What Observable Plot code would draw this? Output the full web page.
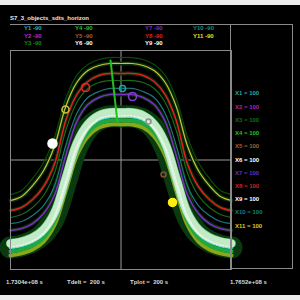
<!DOCTYPE html>
<html><head><meta charset="utf-8">
<script src="https://cdn.jsdelivr.net/npm/d3@7"></script>
<script src="https://cdn.jsdelivr.net/npm/@observablehq/plot@0.6"></script>
<style>
html,body{margin:0;padding:0;background:#000;overflow:hidden}
#wrap{position:relative;width:300px;height:300px;background:#000;font-family:"Liberation Sans",Arial,sans-serif;font-weight:bold}
#wrap svg{position:absolute;left:0;top:0}
.t{position:absolute;font-size:6px;white-space:pre;line-height:1;transform:translateY(-50%)}
.ln{position:absolute;background:#8a8a8a}
.strip{position:absolute;left:0;width:300px;background:#ececec}
</style></head><body><div id="wrap"></div>
<script>
// time samples, ks after 1.7304e+08 s
const times = [0,174,348,522,696,870,1044,1218,1392,1566,1740,1914,2088,2262,2436,2610,2784,2958,3132,3306,3480];

// curve values (degrees)
const glowOuter = [-28.4,-25.1,-15.2,-2.1,19.3,50.5,69.5,78.5,82.6,84.2,84.2,84.2,82.6,78.5,69.5,50.5,19.3,-2.1,-15.2,-25.1,-28.4];
const yellowCurve = [-33.3,-30.0,-21.0,-8.6,11.9,44.0,63.7,73.6,77.7,79.3,79.3,79.3,77.7,73.6,63.7,44.0,11.9,-8.6,-21.0,-30.0,-33.3];
const redCurve = [-41.5,-39.0,-32.5,-21.8,-2.9,32.5,53.8,64.5,69.5,71.1,71.1,71.1,69.5,64.5,53.8,32.5,-2.9,-21.8,-32.5,-39.0,-41.5];
const darkGreenCurve = [-47.3,-44.8,-39.0,-29.2,-10.3,24.2,47.3,58.8,63.7,65.3,65.3,65.3,63.7,58.8,47.3,24.2,-10.3,-29.2,-39.0,-44.8,-47.3];
const tealCurve = [-52.2,-50.5,-45.6,-37.4,-21.0,11.9,38.2,51.4,56.3,58.8,58.8,58.8,56.3,51.4,38.2,11.9,-21.0,-37.4,-45.6,-50.5,-52.2];
const purpleCurve = [-57.9,-56.3,-52.2,-44.0,-28.4,3.7,31.6,45.6,51.4,53.8,53.8,53.8,51.4,45.6,31.6,3.7,-28.4,-44.0,-52.2,-56.3,-57.9];
const whiteBand = [-68.6,-67.0,-63.7,-57.1,-43.2,-15.2,13.6,29.2,36.6,39.0,39.0,39.0,36.6,29.2,13.6,-15.2,-43.2,-57.1,-63.7,-67.0,-68.6];
const cyanBand = [-71.9,-70.3,-67.0,-60.4,-46.4,-18.5,10.3,25.9,33.3,35.8,35.8,35.8,33.3,25.9,10.3,-18.5,-46.4,-60.4,-67.0,-70.3,-71.9];
const greenBand = [-75.2,-73.6,-70.3,-63.7,-49.7,-21.8,7.0,22.6,30.0,32.5,32.5,32.5,30.0,22.6,7.0,-21.8,-49.7,-63.7,-70.3,-73.6,-75.2];
const yellowGreenBand = [-78.5,-76.8,-73.6,-67.0,-53.0,-25.1,3.7,19.3,26.7,29.2,29.2,29.2,26.7,19.3,3.7,-25.1,-53.0,-67.0,-73.6,-76.8,-78.5];

// markers
const markT = [661,866,1182,1764,1921,2173,2410,2551];
const markV = [13.6,41.5,59.6,58.8,52.2,31.6,-11.9,-34.9];
const markColor = ["#ffffff","#c8c040","#e02828","#20a0a0","#8040d0","#909090","#805030","#ffee10"];
const markFilled = [true,false,false,false,false,false,false,true];
const markR = [4.5,3.5,4,3,4,2.5,2.5,4];

// green marker line
const pointerT = [1575,1685];
const pointerV = [81.8,30.8];

// legends
const yLegend = ["Y1 -90","Y2 -90","Y3 -90","Y4 -90","Y5 -90","Y6 -90","Y7 -90","Y8 -90","Y9 -90","Y10 -90","Y11 -90"];
const yLegendColor = ["#20b0b0","#c020c0","#108a10","#20c020","#a06020","#ffffff","#7030c0","#e02020","#ffffff","#108a8a","#e0e020"];
const xLegend = ["X1 = 100","X2 = 100","X3 = 100","X4 = 100","X5 = 100","X6 = 100","X7 = 100","X8 = 100","X9 = 100","X10 = 100","X11 = 100"];
const xLegendColor = ["#20a8a8","#b020b0","#107010","#20c020","#a06030","#ffffff","#6030c0","#d02020","#ffffff","#108080","#d0d020"];
const titleText = "S7_3_objects_sdts_horizon";
const bottomTexts = ["1.7304e+08 s","Tdelt =  200 s","Tplot =  200 s","1.7652e+08 s"];

const rows = vals => times.map((t,i)=>({t, v: vals[i]}));
const C = "catmull-rom";
const markers = markT.map((t,i)=>({t, v: markV[i], c: markColor[i], f: markFilled[i], r: markR[i]}));
const pointer = pointerT.map((t,i)=>({t, v: pointerV[i]}));

const chart = Plot.plot({
  width: 300, height: 300,
  marginTop: 50, marginLeft: 10, marginRight: 69, marginBottom: 31,
  x: {domain: [0, 3480], axis: null},
  y: {domain: [-90, 90], axis: null},
  r: {type: "identity"},
  style: {background: "transparent", overflow: "visible"},
  marks: [
    Plot.ruleX([1740], {stroke: "#9a9a9a", strokeWidth: 1}),
    Plot.ruleY([0], {stroke: "#9a9a9a", strokeWidth: 1}),
    Plot.line(rows(cyanBand), {x:"t", y:"v", stroke:"#0a3a10", strokeWidth: 22, curve: C}),
    Plot.line(rows(glowOuter), {x:"t", y:"v", stroke:"#0b4a0b", strokeWidth: 1.2, curve: C}),
    Plot.line(rows(yellowCurve), {x:"t", y:"v", stroke:"#082e08", strokeWidth: 4, curve: C}),
    Plot.line(rows(yellowCurve), {x:"t", y:"v", stroke:"#c8c43a", strokeWidth: 1.2, curve: C}),
    Plot.line(rows(redCurve), {x:"t", y:"v", stroke:"#082808", strokeWidth: 4, curve: C}),
    Plot.line(rows(redCurve), {x:"t", y:"v", stroke:"#e02020", strokeWidth: 1.5, curve: C}),
    Plot.line(rows(darkGreenCurve), {x:"t", y:"v", stroke:"#1a6a1a", strokeWidth: 1.2, curve: C}),
    Plot.line(rows(tealCurve), {x:"t", y:"v", stroke:"#1a7a7a", strokeWidth: 1.2, curve: C}),
    Plot.line(rows(purpleCurve), {x:"t", y:"v", stroke:"#082808", strokeWidth: 4, curve: C}),
    Plot.line(rows(purpleCurve), {x:"t", y:"v", stroke:"#7a30c8", strokeWidth: 1.5, curve: C}),
    Plot.line(rows(yellowGreenBand), {x:"t", y:"v", stroke:"#8aa818", strokeWidth: 4, curve: C}),
    Plot.line(rows(greenBand), {x:"t", y:"v", stroke:"#20a840", strokeWidth: 4, curve: C}),
    Plot.line(rows(cyanBand), {x:"t", y:"v", stroke:"#30d0c0", strokeWidth: 3.5, curve: C}),
    Plot.line(rows(whiteBand), {x:"t", y:"v", stroke:"#5fb872", strokeWidth: 9, curve: C}),
    Plot.line(rows(whiteBand), {x:"t", y:"v", stroke:"#e4fbe4", strokeWidth: 8, strokeDasharray: "1,1.8", strokeOpacity: 0.75, curve: C}),
    Plot.line(rows(cyanBand), {x:"t", y:"v", stroke:"#ffffff", strokeWidth: 2.5, strokeDasharray: "0.8,2.4", strokeOpacity: 0.55, curve: C}),
    Plot.line(pointer, {x:"t", y:"v", stroke:"#22c022", strokeWidth: 2}),
    Plot.dot(markers.filter(d=>d.f), {x:"t", y:"v", r:"r", fill:"c", stroke:"c"}),
    Plot.dot(markers.filter(d=>!d.f), {x:"t", y:"v", r:"r", fill:"none", stroke:"c", strokeWidth: 1.6}),
    Plot.frame({stroke: "#8a8a8a"})
  ]
});

const wrap = document.getElementById("wrap");
wrap.appendChild(chart);

function addDiv(cls, css, text) {
  const d = document.createElement("div");
  d.className = cls;
  Object.assign(d.style, css);
  if (text !== undefined) d.textContent = text;
  wrap.appendChild(d);
  return d;
}
addDiv("strip", {top: "0px", height: "5px"});
addDiv("strip", {top: "295px", height: "5px"});
// frame lines
addDiv("ln", {left: "10px", top: "24px", width: "283px", height: "1px"});
addDiv("ln", {left: "10px", top: "50px", width: "221px", height: "1px"});
addDiv("ln", {left: "230px", top: "24px", width: "1px", height: "245px"});
addDiv("ln", {left: "292px", top: "24px", width: "1px", height: "245px"});
addDiv("ln", {left: "230px", top: "268px", width: "63px", height: "1px"});

addDiv("t", {left: "10px", top: "18px", color: "#e8e8e8"}, titleText);
const colX = [24, 75, 145, 193], rowY = [28, 35.5, 43];
yLegend.forEach((s, i) => {
  addDiv("t", {left: colX[Math.floor(i/3)] + "px", top: rowY[i%3] + "px", color: yLegendColor[i]}, s);
});
xLegend.forEach((s, i) => {
  addDiv("t", {left: "235px", top: (93.3 + i*13.24) + "px", color: xLegendColor[i]}, s);
});
const bx = [6, 67, 130, 230];
bottomTexts.forEach((s, i) => addDiv("t", {left: bx[i] + "px", top: "282px", color: "#d8d8d8"}, s));
</script></body></html>
